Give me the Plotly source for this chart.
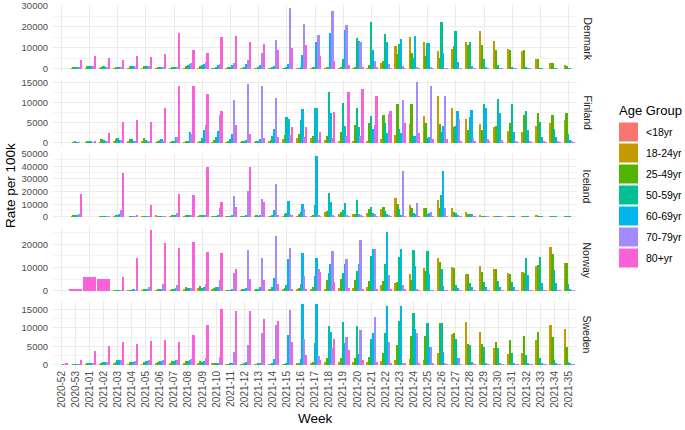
import plotly.graph_objects as go
from plotly.subplots import make_subplots

weeks = ["2020-52", "2020-53", "2021-01", "2021-02", "2021-03", "2021-04", "2021-05",
         "2021-06", "2021-07", "2021-08", "2021-09", "2021-10", "2021-11", "2021-12",
         "2021-13", "2021-14", "2021-15", "2021-16", "2021-17", "2021-18", "2021-19",
         "2021-20", "2021-21", "2021-22", "2021-23", "2021-24", "2021-25", "2021-26",
         "2021-27", "2021-28", "2021-29", "2021-30", "2021-31", "2021-32", "2021-33",
         "2021-34", "2021-35"]

age_groups = ["<18yr", "18-24yr", "25-49yr", "50-59yr", "60-69yr", "70-79yr", "80+yr"]
colors = ["#F8766D", "#C49A00", "#53B400", "#00C094", "#00B6EB", "#A58AFF", "#FB61D7"]
countries = ["Denmark", "Finland", "Iceland", "Norway", "Sweden"]
N = None

# ---------------- Denmark ----------------
dk_u18 = [N, 0, 0, 0, 0, 0, 0, 0, 0, 0, 0, 0, 0, 0, 0, 0, 0, 0, 0, 0, 0, 0, 0, 0, 0, 0, 0, 0, 0, 0, 0, 0, 0, 0, 0, 0, 0]
dk_18_24 = [N, 100, 200, 200, 100, 200, 200, 100, 100, 300, 400, 100, 100, 100, 100, 100, 100, 100, 100, 100, 200, 300, 400, 2700, 10800, 15100, 12900, 8400, 9400, 12700, 18100, 13500, 9700, 8700, 4900, 2900, 1700]
dk_25_49 = [N, 900, 1400, 1100, 600, 1400, 1300, 600, 700, 1300, 1500, 400, 500, 300, 300, 300, 300, 300, 500, 500, 700, 700, 1700, 3800, 7000, 7800, 6300, 5200, 11000, 11300, 11300, 9000, 9000, 8900, 4800, 2700, 1600]
dk_50_59 = [N, 1000, 1500, 1200, 700, 1500, 1500, 700, 800, 1700, 1700, 700, 900, 700, 600, 600, 600, 700, 800, 1100, 4800, 14900, 22400, 16700, 11700, 5100, 12200, 22400, 18100, 12700, 4800, 1900, 900, 500, 300, 200, 100]
dk_60_69 = [N, 900, 1400, 1100, 600, 1400, 1600, 600, 800, 2300, 2300, 1900, 2000, 2400, 2000, 1400, 2500, 6800, 13000, 17300, 18600, 13500, 9000, 13000, 14100, 15700, 12200, 7800, 3500, 1400, 600, 300, 200, 200, 100, 100, 100]
dk_70_79 = [N, 700, 1200, 1000, 500, 1100, 1300, 600, 900, 2900, 3400, 2300, 2800, 4300, 7500, 14000, 29000, 21400, 16300, 27600, 21000, 12700, 3800, 2400, 1400, 900, 600, 300, 300, 200, 100, 100, 100, 100, 0, 0, 0]
dk_80p = [N, 4200, 6300, 5300, 4400, 6000, 5700, 7000, 17100, 9000, 7800, 15200, 15700, 12700, 11900, 8900, 10000, 11400, 6300, 4000, 1900, 800, 500, 300, 200, 200, 100, 100, 100, 100, 0, 0, 0, 0, 0, 0, 0]

# ---------------- Finland ----------------
fi_u18 = [N, 0, 0, 0, 0, 0, 0, 0, 0, 0, 0, 0, 0, 0, 0, 0, 0, 0, 0, 0, 0, 0, 0, 0, 0, 0, 0, 0, 0, 0, 0, 0, 0, 0, 0, 0, 0]
fi_18_24 = [N, 0, 100, 200, 600, 400, 500, 200, 100, 100, 200, 200, 200, 100, 100, 600, 1000, 1200, 1200, 800, 500, 400, 600, 900, 1900, 4800, 6800, 11800, 8700, 6000, 4800, 3900, 3100, 2800, 4200, 5000, 5700]
fi_25_49 = [N, 200, 400, 1000, 1000, 1100, 1200, 600, 300, 300, 600, 700, 600, 300, 300, 800, 1900, 2200, 1700, 1800, 2700, 4500, 5000, 7000, 9700, 9600, 5000, 4800, 3900, 3300, 3300, 4200, 5100, 7000, 7500, 7000, 7500]
fi_50_59 = [N, 300, 500, 800, 1300, 900, 800, 700, 400, 500, 1300, 1400, 1100, 400, 500, 1700, 6400, 5800, 8800, 12700, 9900, 8800, 6700, 5000, 3600, 1700, 1300, 2700, 4200, 6600, 9700, 10900, 9700, 8000, 5300, 3600, 2300]
fi_60_69 = [N, 100, 300, 400, 800, 600, 500, 1000, 1400, 2700, 3300, 2900, 2200, 750, 1100, 3500, 6100, 8400, 8700, 7600, 4200, 4100, 3400, 2600, 2400, 1700, 1500, 4200, 8000, 8300, 8800, 7500, 2700, 3300, 1400, 1400, 700]
fi_70_79 = [N, 100, 100, 300, 700, 500, 400, 600, 1400, 2200, 4400, 7100, 10600, 14700, 14300, 11300, 2000, 1500, 800, 1200, 1700, 1700, 4500, 7300, 10700, 15200, 14100, 11800, 6000, 1300, 1000, 700, 500, 500, 400, 400, 300]
fi_80p = [N, 0, 400, 2500, 5200, 5700, 5300, 8800, 14100, 14300, 12100, 7900, 4600, 2300, 1200, 1400, 4000, 4000, 2700, 7700, 12700, 13400, 11800, 8000, 5000, 2600, 1100, 1000, 500, 300, 300, 200, 200, 200, 200, 200, 100]

# ---------------- Iceland ----------------
is_u18 = [N, 0, N, 0, 0, 0, 0, 0, 0, 0, 0, 0, 0, 0, 0, 0, 0, 0, 0, 0, 0, 0, 0, 0, 0, 0, 0, 0, 0, 0, 0, 0, 0, 0, 0, 0, 0]
is_18_24 = [N, 200, N, 200, 300, 0, 200, 1300, 200, 300, 300, 200, 100, 100, 100, 200, 300, 300, 600, 4200, 2000, 2000, 2900, 6000, 14900, 9400, 7100, 13100, 6800, 4200, 800, 300, 500, 300, 1300, 300, 300]
is_25_49 = [N, 800, N, 600, 1300, 100, 500, 500, 800, 1300, 1300, 400, 300, 300, 800, 300, 2300, 2200, 1800, 4700, 4200, 2300, 6500, 7900, 9900, 6800, 7100, 7300, 4200, 2600, 300, 300, 200, 200, 500, 200, 200]
is_50_59 = [N, 800, N, 700, 1500, 100, 500, 500, 800, 1300, 1500, 500, 400, 500, 500, 1000, 3400, 4200, 9400, 18600, 5200, 13100, 7900, 4700, 6000, 3400, 2100, 17300, 3400, 2100, 200, 200, 100, 100, 200, 100, 100]
is_60_69 = [N, 1000, N, 700, 2400, 100, 400, 400, 1300, 1000, 1000, 800, 800, 800, 1300, 5500, 12800, 9900, 48000, 11500, 10700, 2100, 2900, 2100, 1800, 2100, 3100, 36400, 1600, 2300, 200, 100, 100, 100, 100, 100, 100]
is_70_79 = [N, 2400, N, 500, 5200, 100, 300, 300, 3400, 1300, 800, 7300, 16500, 20400, 13800, 25600, 2300, 6000, 1600, 800, 800, 800, 2100, 800, 36100, 11000, 3900, 6800, 500, 300, 100, 100, 0, 0, 0, 0, 0]
is_80p = [N, 18000, N, 300, 34500, 800, 9400, 200, 18000, 17300, 39500, 11800, 7900, 39500, 11500, 1800, 800, 500, 300, 200, 200, 100, 100, 100, 300, 200, 100, 300, 100, 100, 0, 0, 0, 0, 0, 0, 0]

# ---------------- Norway ----------------
no_u18 = [N, N, N, N, 0, 0, 0, 0, 0, 0, 0, 0, 0, 0, 0, 0, 0, 0, 0, 0, 0, 0, 0, 0, 0, 0, 0, 0, 0, 0, 0, 0, 0, 0, 0, 0, 0]
no_18_24 = [N, N, N, N, 100, 100, 200, 200, 300, 700, 1100, 700, 100, 300, 400, 700, 700, 700, 700, 1000, 1300, 1400, 1900, 2400, 3600, 7300, 9700, 14000, 10400, 7300, 10900, 9300, 7600, 8300, 10900, 18700, 12100]
no_25_49 = [N, N, N, N, 300, 400, 700, 700, 1000, 1700, 2000, 1100, 100, 700, 800, 1000, 1100, 1400, 1900, 4700, 5100, 4700, 4100, 4100, 3900, 4700, 8700, 12400, 10000, 7300, 8000, 9300, 7400, 7600, 11300, 16000, 12100]
no_50_59 = [N, N, N, N, 300, 400, 700, 700, 1000, 1400, 1400, 1600, 200, 900, 1000, 1900, 2700, 3000, 6400, 7700, 7600, 8600, 15000, 11700, 14400, 17400, 17000, 9300, 2400, 3600, 3900, 4100, 4000, 14100, 14400, 9000, 3000]
no_60_69 = [N, N, N, N, 300, 900, 900, 900, 1100, 1100, 1900, 1600, 700, 1100, 1900, 5600, 13600, 16100, 14300, 11700, 11700, 11400, 17900, 25100, 17900, 10900, 7300, 2100, 1100, 1900, 1900, 1900, 1900, 6700, 3600, 3600, 700]
no_70_79 = [N, N, N, N, 200, 300, 1900, 3000, 2400, 1400, 2900, 4600, 7700, 17400, 14100, 23600, 18300, 6400, 9600, 17100, 13600, 21700, 17900, 6900, 2400, 700, 400, 300, 200, 200, 200, 200, 200, 300, 300, 300, 200]
no_80p = [N, 600, 6100, 5100, 6000, 14000, 26100, 20600, 18400, 21100, 16700, 16400, 9300, 5300, 4600, 3000, 900, 700, 8300, 3900, 1100, 1000, 1000, 700, 500, 300, 200, 100, 100, 100, 100, 100, 100, 100, 100, 100, 100]

# ---------------- Sweden ----------------
se_u18 = [0, 0, 0, 0, 0, 0, 0, 0, 0, 0, 0, 0, 0, 0, 0, 0, 0, 0, 0, 0, 0, 0, 0, 0, 0, 0, 0, 0, 0, 0, 0, 0, 0, 0, 0, 0, 0]
se_18_24 = [0, 0, 100, 100, 300, 200, 200, 300, 400, 600, 400, 300, 100, 100, 100, 100, 100, 300, 600, 700, 700, 700, 800, 1000, 1300, 1700, 1400, 3300, 8400, 11700, 8800, 4700, 3000, 3200, 6700, 10700, 9600]
se_25_49 = [0, 100, 300, 500, 800, 700, 700, 800, 1000, 1200, 1100, 400, 200, 200, 200, 200, 200, 300, 800, 1900, 2000, 2000, 2200, 3200, 5300, 7700, 7900, 11200, 8700, 5700, 5600, 6100, 6700, 7900, 9000, 7500, 4800]
se_50_59 = [0, 100, 400, 700, 1300, 900, 1000, 1100, 1200, 1000, 800, 500, 300, 300, 300, 300, 400, 1700, 5900, 10600, 11600, 10500, 7000, 8700, 11900, 13900, 11300, 11200, 7100, 5500, 4800, 4700, 3300, 2600, 1800, 1300, 800]
se_60_69 = [100, 100, 450, 700, 1300, 900, 1100, 1100, 1300, 1300, 1000, 600, 600, 900, 500, 1700, 8100, 16400, 16300, 8800, 6000, 2900, 8700, 15900, 15900, 9700, 4900, 3600, 1900, 800, 600, 400, 400, 400, 400, 300, 300]
se_70_79 = [150, 200, 400, 700, 1300, 1100, 1300, 1300, 1400, 1600, 1900, 2100, 3600, 5500, 8700, 10800, 14700, 6900, 2500, 4600, 7400, 9300, 12900, 6200, 500, 8600, 4900, 300, 1900, 300, 200, 200, 100, 100, 100, 100, 100]
se_80p = [300, 1400, 3700, 5200, 6300, 5700, 6400, 6800, 6300, 8200, 10700, 15100, 14600, 14600, 12500, 11800, 6200, 2800, 1300, 6900, 4100, 1300, 900, 500, 300, 500, 300, 200, 200, 100, 100, 100, 100, 100, 100, 100, 100]

country_tables = [
    [dk_u18, dk_18_24, dk_25_49, dk_50_59, dk_60_69, dk_70_79, dk_80p],
    [fi_u18, fi_18_24, fi_25_49, fi_50_59, fi_60_69, fi_70_79, fi_80p],
    [is_u18, is_18_24, is_25_49, is_50_59, is_60_69, is_70_79, is_80p],
    [no_u18, no_18_24, no_25_49, no_50_59, no_60_69, no_70_79, no_80p],
    [se_u18, se_18_24, se_25_49, se_50_59, se_60_69, se_70_79, se_80p],
]
y_tick_steps = [10000, 5000, 10000, 10000, 5000]

# ---------------- layout geometry (pixels) ----------------
W, H = 685, 430
ML, MR, MT, MB = 53, 108, 5, 62
PW, PH = W - ML - MR, H - MT - MB
FONT = "Liberation Sans, Arial, Helvetica, sans-serif"
GRID = "#EBEBEB"


def px_x(px):
    return (px - ML) / PW


def px_y(py):
    return (H - MB - py) / PH


fig = make_subplots(rows=5, cols=1, shared_xaxes=True, vertical_spacing=7 / PH)

DODGE = 0.9
for r, table in enumerate(country_tables):
    for k, grp in enumerate(age_groups):
        xs, ys, offs, wids = [], [], [], []
        for i, wk in enumerate(weeks):
            val = table[k][i]
            if val is None:
                continue
            present = [j for j in range(len(age_groups)) if table[j][i] is not None]
            bw = DODGE / len(present)
            pos = present.index(k)
            xs.append(wk)
            ys.append(val)
            offs.append(-DODGE / 2 + pos * bw)
            wids.append(bw)
        fig.add_trace(go.Bar(x=xs, y=ys, offset=offs, width=wids, name=grp,
                             marker=dict(color=colors[k], line=dict(width=0)),
                             showlegend=False,
                             hovertemplate=countries[r] + " %{x}<br>" + grp + ": %{y}<extra></extra>"),
                      row=r + 1, col=1)

    vmax = max(v for col in table for v in col if v is not None)
    step = y_tick_steps[r]
    tv = list(range(0, int(vmax * 1.05) + 1, step))
    fig.update_yaxes(row=r + 1, col=1, range=[-0.05 * vmax, 1.05 * vmax], automargin=False,
                     tickmode="array", tickvals=tv, ticktext=[str(t) for t in tv],
                     showgrid=True, gridcolor=GRID, gridwidth=1, zeroline=False,
                     showline=False, ticks="", ticklabelstandoff=4,
                     tickfont=dict(family=FONT, size=9.5, color="#4D4D4D"),
                     minor=dict(tickmode="linear", tick0=step / 2, dtick=step, showgrid=True,
                                gridcolor="#F3F3F3", gridwidth=1, ticks=""))
    fig.update_xaxes(row=r + 1, col=1, type="category", categoryorder="array", automargin=False,
                     categoryarray=weeks, range=[-0.6, len(weeks) - 0.4],
                     showgrid=True, gridcolor=GRID, gridwidth=1, zeroline=False,
                     showline=False, ticks="", showticklabels=(r == 4), tickangle=-90,
                     tickfont=dict(family=FONT, size=10, color="#4D4D4D"))

annotations = []
# strip labels
for r, name in enumerate(countries):
    dom = fig.layout["yaxis" + ("" if r == 0 else str(r + 1))].domain
    annotations.append(dict(text=name, xref="paper", yref="paper", x=px_x(587),
                            y=(dom[0] + dom[1]) / 2, showarrow=False, textangle=90,
                            xanchor="center", yanchor="middle",
                            font=dict(family=FONT, size=10.5, color="#1A1A1A")))
# axis titles
annotations.append(dict(text="Rate per 100k", xref="paper", yref="paper", x=px_x(10),
                        y=px_y(186), showarrow=False, textangle=-90, xanchor="center",
                        yanchor="middle", font=dict(family=FONT, size=13.5, color="#000000")))
annotations.append(dict(text="Week", xref="paper", yref="paper", x=px_x(315),
                        y=px_y(418), showarrow=False, xanchor="center", yanchor="middle",
                        font=dict(family=FONT, size=13.5, color="#000000")))
# legend
annotations.append(dict(text="Age Group", xref="paper", yref="paper", x=px_x(617),
                        y=px_y(110), showarrow=False, xanchor="left", yanchor="middle",
                        font=dict(family=FONT, size=13, color="#000000")))
shapes = []
for k, grp in enumerate(age_groups):
    cy = 132 + 21 * k
    shapes.append(dict(type="rect", xref="paper", yref="paper",
                       x0=px_x(619), x1=px_x(638), y0=px_y(cy + 9.5), y1=px_y(cy - 9.5),
                       fillcolor=colors[k], line=dict(width=0)))
    annotations.append(dict(text=grp, xref="paper", yref="paper", x=px_x(644),
                            y=px_y(cy), showarrow=False, xanchor="left", yanchor="middle",
                            font=dict(family=FONT, size=10.5, color="#000000")))

fig.update_layout(width=W, height=H, margin=dict(l=ML, r=MR, t=MT, b=MB, autoexpand=False),
                  barmode="overlay", bargap=0, plot_bgcolor="white", paper_bgcolor="white",
                  annotations=annotations, shapes=shapes, showlegend=False,
                  font=dict(family=FONT))

fig.write_html("out.html", config={"displayModeBar": False},
               post_script="document.body.style.margin='0';document.body.style.padding='0';"
                           "document.body.style.overflow='hidden';")
